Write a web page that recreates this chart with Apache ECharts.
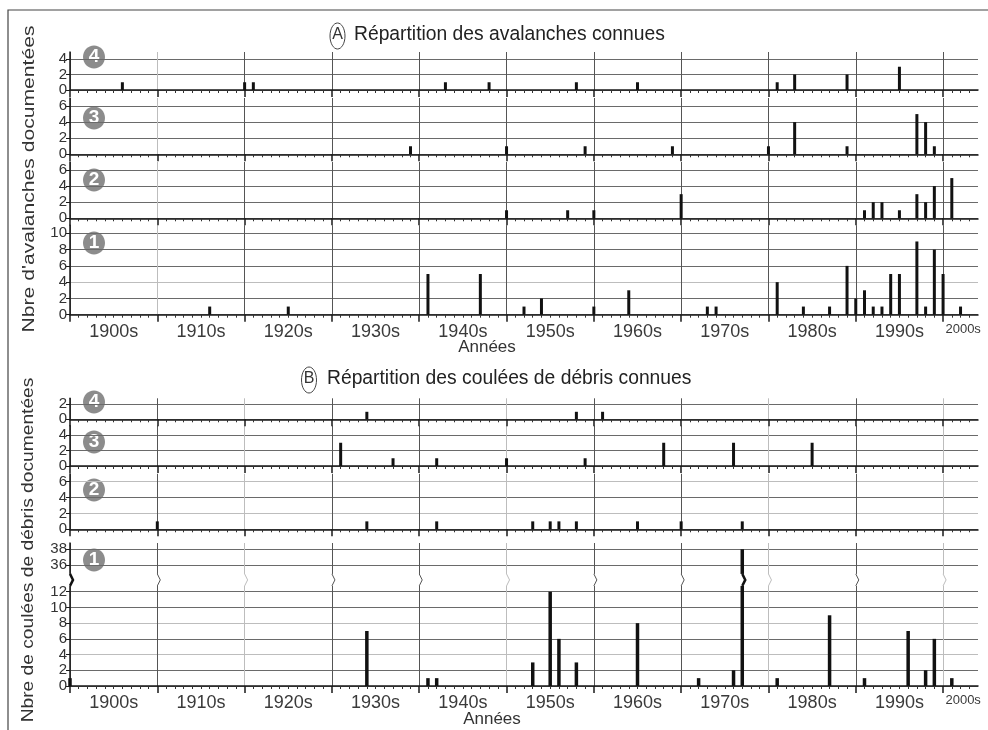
<!DOCTYPE html>
<html><head><meta charset="utf-8">
<script src="https://cdn.jsdelivr.net/npm/echarts@6/dist/echarts.min.js"></script>
<style>html,body{margin:0;padding:0;background:#fff}#c{width:988px;height:730px}</style>
</head><body><div id="c"></div>
<script>
// ---- data (year, count) ----
const avalanches4 = [[1906,1],[1920,1],[1921,1],[1943,1],[1948,1],[1958,1],[1965,1],[1981,1],[1983,2],[1989,2],[1995,3]];
const avalanches3 = [[1939,1],[1950,1],[1959,1],[1969,1],[1980,1],[1983,4],[1989,1],[1997,5],[1998,4],[1999,1]];
const avalanches2 = [[1950,1],[1957,1],[1960,1],[1970,3],[1991,1],[1992,2],[1993,2],[1995,1],[1997,3],[1998,2],[1999,4],[2001,5]];
const avalanches1 = [[1916,1],[1925,1],[1941,5],[1947,5],[1952,1],[1954,2],[1960,1],[1964,3],[1973,1],[1974,1],[1981,4],[1984,1],[1987,1],[1989,6],[1990,2],[1991,3],[1992,1],[1993,1],[1994,5],[1995,5],[1997,9],[1998,1],[1999,8],[2000,5],[2002,1]];
const debris4 = [[1934,1],[1958,1],[1961,1]];
const debris3 = [[1931,3],[1937,1],[1942,1],[1950,1],[1959,1],[1968,3],[1976,3],[1985,3]];
const debris2 = [[1910,1],[1934,1],[1942,1],[1953,1],[1955,1],[1956,1],[1958,1],[1965,1],[1970,1],[1977,1]];
const debris1 = [[1900,1],[1934,7],[1941,1],[1942,1],[1953,3],[1955,12],[1956,6],[1958,3],[1965,8],[1972,1],[1976,2],[1977,38],[1981,1],[1987,9],[1991,1],[1996,7],[1998,2],[1999,6],[2001,1]];

const decadeTicks = [1900,1910,1920,1930,1940,1950,1960,1970,1980,1990,2000];
const decadeLabelPos = [1905,1915,1925,1935,1945,1955,1965,1975,1985,1995,2002.3];
const ticks4 = [0,2,4], ticks6 = [0,2,4,6], ticks10 = [0,2,4,6,8,10], ticks2 = [0,2];
const brokenLowTicks = [0,2,4,6,8,10,12];
const brokenHighTicks = [36,38];

// broken axis for the debris panel 1
const breakLow = 12, breakShift = 20.6, breakPos = 13.5;
const mapBroken = v => v > breakLow ? v - breakShift : v;
const unmapBroken = v => v > breakPos ? Math.round(v + breakShift) : Math.round(v);

const DARK = '#555', LIGHT = '#bdbdbd', HGRID = '#6a6a6a';
const lightA = [1910];
const lightB = [1920,1950,1980,2000];

const panels = [
  {data: avalanches4, top: 52, height: 38, max: 4.9, yTicks: ticks4, yLight: [], xLight: lightA, labels: false},
  {data: avalanches3, top: 98, height: 56.3, max: 7, yTicks: ticks6, yLight: [], xLight: lightA, labels: false},
  {data: avalanches2, top: 162, height: 56.3, max: 7, yTicks: ticks6, yLight: [], xLight: lightA, labels: false},
  {data: avalanches1, top: 225.2, height: 89.5, max: 11, yTicks: ticks10, yLight: [4], xLight: lightA, labels: true},
  {data: debris4, top: 398.3, height: 21, max: 2.8, yTicks: ticks2, yLight: [], xLight: lightB, labels: false},
  {data: debris3, top: 425.7, height: 40.3, max: 5.2, yTicks: ticks4, yLight: [], xLight: lightB, labels: false},
  {data: debris2, top: 473.8, height: 55.5, max: 7, yTicks: ticks6, yLight: [2,6], xLight: lightB, labels: false},
  {data: debris1.map(d => [d[0], mapBroken(d[1])]), top: 543, height: 143, max: 18.2,
   yTicks: brokenLowTicks.concat(brokenHighTicks.map(mapBroken)), yLight: [4,8], xLight: lightB, labels: true, broken: true}
];

const grids = [], xAxes = [], yAxes = [], series = [];
panels.forEach((p, i) => {
  grids.push({left: 70, width: 908, top: p.top, height: p.height, outerBoundsMode: 'none', containLabel: false});
  xAxes.push({
    gridIndex: i, type: 'value', min: 1900, max: 2004, interval: 10,
    axisLine: {show: true, onZero: false, lineStyle: {color: '#1a1a1a', width: 1.5}},
    axisTick: {show: true, customValues: decadeTicks, length: 7, lineStyle: {color: '#1a1a1a', width: 1.5}},
    minorTick: {show: true, splitNumber: 10, length: 3, lineStyle: {color: '#333', width: 1}},
    axisLabel: {
      show: p.labels, customValues: decadeLabelPos, margin: 8, fontSize: 18, color: '#3a3a3a',
      fontFamily: 'Liberation Sans',
      formatter: v => v > 2000 ? '{s|2000s}' : (Math.floor(v / 10) * 10) + 's',
      rich: {s: {fontSize: 13, color: '#3a3a3a', fontFamily: 'Liberation Sans Narrow, Liberation Sans'}}
    },
    splitLine: {show: true, lineStyle: {color: decadeTicks.map(d => p.xLight.includes(d) ? LIGHT : DARK), width: 1}}
  });
  yAxes.push({
    gridIndex: i, type: 'value', min: 0, max: p.max,
    axisLine: {show: true, onZero: false, lineStyle: {color: '#1a1a1a', width: 1.5}},
    axisTick: {show: true, customValues: p.yTicks, length: 4, lineStyle: {color: '#1a1a1a'}},
    axisLabel: {customValues: p.yTicks, fontSize: 15, color: '#333', margin: 3, fontFamily: 'Liberation Sans',
      formatter: p.broken ? (v => String(unmapBroken(v))) : (v => String(v))},
    splitLine: {show: true, lineStyle: {color: p.yTicks.map(t => p.yLight.includes(t) ? LIGHT : HGRID), width: 1}}
  });
  series.push({type: 'bar', xAxisIndex: i, yAxisIndex: i, data: p.data, barWidth: p.broken ? 3.5 : 3,
    itemStyle: {color: '#111'}, silent: true, z: 3});
});

// break marks on the broken axis (kind: 0 dark line, 1 light line, 2 thick)
const breakMarks = decadeTicks.map(d => [d, d === 1900 ? 2 : (lightB.includes(d) ? 1 : 0)]).concat([[1977, 2]]);
series.push({
  type: 'custom', xAxisIndex: 7, yAxisIndex: 7, data: breakMarks, silent: true, z: 6, clip: false,
  renderItem: (params, api) => {
    const yr = api.value(0), kind = api.value(1);
    const c = api.coord([yr, breakPos]);
    const col = kind === 2 ? '#111' : (kind === 1 ? LIGHT : DARK);
    const lw = kind === 2 ? 2.5 : 1;
    return {type: 'group', children: [
      {type: 'rect', shape: {x: c[0] - 3, y: c[1] - 6, width: 7, height: 12}, style: {fill: '#fff'}},
      {type: 'polyline', shape: {points: [[c[0], c[1] - 6], [c[0] + 3, c[1]], [c[0], c[1] + 6]]},
       style: {stroke: col, lineWidth: lw, fill: null}}
    ]};
  }
});

function badge(cx, cy, t) {
  return {type: 'group', children: [
    {type: 'ellipse', shape: {cx: cx, cy: cy, rx: 11, ry: 11.5}, style: {fill: '#8c8c8c'}},
    {type: 'text', x: cx, y: cy, style: {text: t, fill: '#fff', font: 'bold 19px Liberation Sans', align: 'center', verticalAlign: 'middle'}}
  ], z: 20};
}
const graphic = [
  {type: 'rect', shape: {x: 8, y: 10, width: 1000, height: 740}, style: {fill: null, stroke: '#444', lineWidth: 1.2}, z: 20},
  {type: 'ellipse', shape: {cx: 337.5, cy: 36, rx: 7.5, ry: 13}, style: {fill: null, stroke: '#444', lineWidth: 1}, z: 20},
  {type: 'text', x: 337.5, y: 35, style: {text: 'A', fill: '#333', font: '16px Liberation Sans', align: 'center', verticalAlign: 'middle'}, z: 20},
  {type: 'text', x: 354, y: 35, style: {text: 'Répartition des avalanches connues', fill: '#222', font: '19.3px Liberation Sans', align: 'left', verticalAlign: 'middle'}, z: 20},
  {type: 'ellipse', shape: {cx: 309, cy: 380, rx: 7.5, ry: 13}, style: {fill: null, stroke: '#444', lineWidth: 1}, z: 20},
  {type: 'text', x: 309, y: 379, style: {text: 'B', fill: '#333', font: '16px Liberation Sans', align: 'center', verticalAlign: 'middle'}, z: 20},
  {type: 'text', x: 327, y: 379, style: {text: 'Répartition des coulées de débris connues', fill: '#222', font: '19.3px Liberation Sans', align: 'left', verticalAlign: 'middle'}, z: 20},
  {type: 'text', x: 30, y: 179, rotation: Math.PI / 2, scaleX: 1.32,
   style: {text: "Nbre d'avalanches documentées", fill: '#333', font: '16px Liberation Sans', align: 'center', verticalAlign: 'middle'}, z: 20},
  {type: 'text', x: 29, y: 550, rotation: Math.PI / 2, scaleX: 1.2,
   style: {text: 'Nbre de coulées de débris documentées', fill: '#333', font: '16px Liberation Sans', align: 'center', verticalAlign: 'middle'}, z: 20},
  {type: 'text', x: 487, y: 347, style: {text: 'Années', fill: '#333', font: '17px Liberation Sans', align: 'center', verticalAlign: 'middle'}, z: 20},
  {type: 'text', x: 492, y: 719, style: {text: 'Années', fill: '#333', font: '17px Liberation Sans', align: 'center', verticalAlign: 'middle'}, z: 20},
  badge(94, 57, '4'), badge(94, 118, '3'), badge(94, 180, '2'), badge(94, 243, '1'),
  badge(94, 402, '4'), badge(94, 442, '3'), badge(94, 490, '2'), badge(94, 560, '1')
];

const chart = echarts.init(document.getElementById('c'), null, {renderer: 'canvas'});
chart.setOption({
  animation: false,
  backgroundColor: '#fff',
  textStyle: {fontFamily: 'Liberation Sans'},
  grid: grids, xAxis: xAxes, yAxis: yAxes, series: series, graphic: graphic
});
</script></body></html>
